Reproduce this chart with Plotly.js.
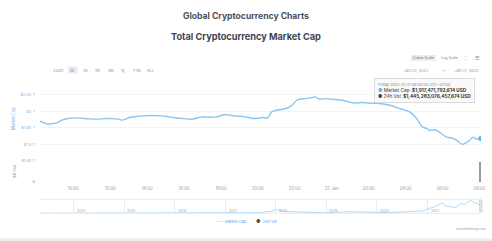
<!DOCTYPE html>
<html>
<head>
<meta charset="utf-8">
<script src="https://cdn.plot.ly/plotly-3.0.1.min.js"></script>
<style>html,body{margin:0;padding:0;background:#fff;}#chart{width:492px;height:241px;}</style>
</head>
<body>
<div id="chart"></div>
<script>
// ---- Data ----
const capTimes = [
 "2022-01-20 08:12","2022-01-20 08:38","2022-01-20 08:52","2022-01-20 09:07","2022-01-20 09:23","2022-01-20 09:43",
 "2022-01-20 10:02","2022-01-20 10:22","2022-01-20 10:50","2022-01-20 11:17","2022-01-20 11:50","2022-01-20 12:22",
 "2022-01-20 12:38","2022-01-20 13:04","2022-01-20 13:25","2022-01-20 13:46","2022-01-20 14:15","2022-01-20 14:48",
 "2022-01-20 15:05","2022-01-20 15:24","2022-01-20 15:55","2022-01-20 16:26","2022-01-20 16:58","2022-01-20 17:20",
 "2022-01-20 17:47","2022-01-20 18:13","2022-01-20 18:35","2022-01-20 19:01","2022-01-20 19:20","2022-01-20 19:44",
 "2022-01-20 20:16","2022-01-20 20:32","2022-01-20 20:45","2022-01-20 21:00","2022-01-20 21:21","2022-01-20 21:44",
 "2022-01-20 22:10","2022-01-20 22:33","2022-01-20 22:50","2022-01-20 23:05","2022-01-20 23:21","2022-01-20 23:40",
 "2022-01-21 00:00","2022-01-21 00:36","2022-01-21 01:08","2022-01-21 01:41","2022-01-21 02:10","2022-01-21 02:36",
 "2022-01-21 03:08","2022-01-21 03:41","2022-01-21 04:13","2022-01-21 04:36","2022-01-21 04:55","2022-01-21 05:08",
 "2022-01-21 05:18","2022-01-21 05:35","2022-01-21 05:50","2022-01-21 06:13","2022-01-21 06:30","2022-01-21 06:46",
 "2022-01-21 07:05","2022-01-21 07:28","2022-01-21 07:38","2022-01-21 07:50","2022-01-21 08:04"
];
const capValues = [ // trillions USD
 1.970,1.961,1.963,1.965,1.973,1.978,
 1.980,1.979,1.977,1.976,1.978,1.977,
 1.973,1.981,1.984,1.986,1.987,1.986,
 1.984,1.981,1.978,1.976,1.983,1.982,
 1.983,1.990,1.987,1.985,1.983,1.978,
 1.981,1.980,1.998,2.003,2.006,2.013,
 2.035,2.038,2.040,2.043,2.036,2.038,
 2.036,2.033,2.025,2.026,2.024,2.023,
 2.018,2.008,1.998,1.978,1.952,1.948,
 1.942,1.944,1.937,1.922,1.920,1.912,
 1.900,1.912,1.922,1.916,1.9175
];
const volTimes = ["2022-01-21 08:04"];
const volValues = [1445283076457674];

const navDates = ["2013-05-01","2013-11-30","2014-06-01","2015-01-01","2015-08-01","2016-03-01","2016-10-01",
 "2017-05-01","2017-09-01","2017-12-01","2018-01-08","2018-03-01","2018-06-01","2018-12-15","2019-06-25","2019-12-15",
 "2020-03-15","2020-08-15","2020-12-01","2021-01-10","2021-02-20","2021-04-14","2021-05-20","2021-07-20",
 "2021-09-05","2021-09-25","2021-11-09","2021-12-10","2022-01-05","2022-01-21"];
const navValues = [0.0015,0.012,0.008,0.006,0.004,0.007,0.012,
 0.06,0.15,0.45,0.82,0.4,0.33,0.11,0.36,0.19,
 0.15,0.36,0.55,1.05,1.45,2.3,1.6,1.3,
 2.3,1.9,2.95,2.3,2.1,1.9];

const priceTicks = [1.85,1.9,1.95,2.0,2.05,2.1];
const priceTickText = ["$1.85 T","$1.9 T","$1.95 T","$2 T","$2.05 T",""];
const timeTicks = ["2022-01-20 10:00","2022-01-20 12:00","2022-01-20 14:00","2022-01-20 16:00","2022-01-20 18:00",
 "2022-01-20 20:00","2022-01-20 22:00","2022-01-21 00:00","2022-01-21 02:00","2022-01-21 04:00","2022-01-21 06:00","2022-01-21 08:00"];
const timeTickText = ["10:00","12:00","14:00","16:00","18:00","20:00","22:00","21. Jan","02:00","04:00","06:00","08:00"];
const yearTicks = ["2014-01-01","2015-01-01","2016-01-01","2017-01-01","2018-01-01","2019-01-01","2020-01-01","2021-01-01"];
const yearText = ["2014","2015","2016","2017","2018","2019","2020","2021"];
const zoomButtons = ["1d","7d","1m","3m","1y","YTD","ALL"];

// ---- Layout helpers ----
const W = 492, H = 241;
const px = x => x / W, py = y => 1 - y / H;
const FONT = "Inter, 'Noto Sans', sans-serif";
const BLUE = "#8ac6f2";
const X0 = 40, X1 = 481;

const capT = capValues.map(v => v * 1e12);

const traces = [
 {type:"scatter", mode:"lines", x:capTimes, y:capT, xaxis:"x", yaxis:"y",
  line:{color:BLUE, width:1.4, shape:"spline", smoothing:0.6}, hoverinfo:"skip", showlegend:false},
 {type:"scatter", mode:"markers", x:[capTimes[capTimes.length-1]], y:[capT[capT.length-1]], xaxis:"x", yaxis:"y",
  marker:{color:"#5fb3ee", size:5}, hoverinfo:"skip", showlegend:false},
 {type:"bar", x:volTimes, y:volValues, xaxis:"x", yaxis:"y2", width:[500000],
  marker:{color:"#9a9a9a"}, hoverinfo:"skip", showlegend:false},
 {type:"scatter", mode:"lines", x:navDates, y:navValues.map(v=>v*1e12), xaxis:"x2", yaxis:"y3",
  line:{color:"#a9d6f5", width:0.9}, hoverinfo:"skip", showlegend:false}
];

const annotations = [];
function txt(x, y, text, size, color, opts) {
  annotations.push(Object.assign({xref:"paper", yref:"paper", x:px(x), y:py(y), text:text, showarrow:false,
    font:{family:FONT, size:size, color:color}, xanchor:"center", yanchor:"middle"}, opts || {}));
}
txt(246, 16, "<b>Global Cryptocurrency Charts</b>", 8.6, "#4a4f5a");
txt(246, 36, "<b>Total Cryptocurrency Market Cap</b>", 9.2, "#3f4450");
// scale buttons
txt(423.5, 58, "Linear Scale", 3.6, "#777");
txt(449, 58, "Log Scale", 3.6, "#888");
txt(466, 58, "⛶", 4.5, "#aaa");
txt(477, 58, "☰", 5, "#777");
// zoom buttons
txt(58, 70, "Zoom", 3.8, "#999");
const zx = [72.5, 85.5, 98, 111, 124, 136.5, 150];
zoomButtons.forEach((b, i) => txt(zx[i], 70, b, 3.8, "#888"));
// date range
txt(416, 70, "Jan 20, 2022", 3.9, "#999");
txt(444, 70, "→", 3.9, "#aaa");
txt(467, 70, "Jan 21, 2022", 3.9, "#999");
// axis titles
txt(13, 119, "Market Cap", 4.2, "#7ab6e6", {textangle:-90});
txt(15, 172, "24h Vol", 3.6, "#777", {textangle:-90});
// navigator year labels, placed through the navigator's date axis
yearTicks.forEach((d, i) => annotations.push({xref:"x2", yref:"paper", x:d, y:py(210.7), text:yearText[i],
  showarrow:false, xanchor:"left", yanchor:"middle", xshift:1, font:{family:FONT, size:3.6, color:"#aaa"}}));
// tooltip
annotations.push({xref:"paper", yref:"paper", x:px(374), y:py(78), xanchor:"left", yanchor:"top", showarrow:false,
  align:"left", bgcolor:"rgba(250,250,250,0.92)", bordercolor:"#c8c8c8", borderwidth:0.6, borderpad:3.5,
  font:{family:FONT, size:4.7, color:"#333"},
  text:"<span style='color:#888;font-size:3.8px'>Friday 2022-01-21 08:04:00 UTC+07:00</span><br>" +
       "<span style='color:#5fb3ee'>●</span> Market Cap: <b>$1,917,471,793,614 USD</b><br>" +
       "<span style='color:#444'>●</span> 24h Vol: <b>$1,445,283,076,457,674 USD</b>"});
// legend
txt(231, 221, "<span style='color:#8ac6f2'>——</span> Market Cap", 3.9, "#5fa6e0");
txt(266, 221, "<span style='color:#555;font-size:5px'>●</span>  24h Vol", 3.9, "#5fa6e0");
// credit
txt(471, 229, "coinmarketcap.com", 3.2, "#999");

const shapes = [
 {type:"rect", xref:"paper", yref:"paper", x0:px(411), x1:px(436), y0:py(55), y1:py(61), fillcolor:"#e9ecf1", line:{width:0}, layer:"below"},
 {type:"rect", xref:"paper", yref:"paper", x0:px(68), x1:px(77.5), y0:py(66.5), y1:py(73.5), fillcolor:"#e6ebf3", line:{width:0}, layer:"below"},
 {type:"line", xref:"paper", yref:"paper", x0:px(X0), x1:px(X1), y0:py(199.3), y1:py(199.3), line:{color:"#e3e3e3", width:0.7}},
 {type:"line", xref:"paper", yref:"paper", x0:px(X0), x1:px(X1), y0:py(213.3), y1:py(213.3), line:{color:"#cfe8fa", width:0.7}},
 {type:"rect", xref:"paper", yref:"paper", x0:px(479.5), x1:px(482), y0:py(200), y1:py(212), fillcolor:"#e2e2e2", line:{color:"#bbb", width:0.4}},
 {type:"rect", xref:"paper", yref:"paper", x0:0, x1:1, y0:0, y1:py(238.5), fillcolor:"#eeeeee", line:{width:0}}
];

const layout = {
  width:W, height:H, margin:{l:0, r:0, t:0, b:0}, paper_bgcolor:"#fff", plot_bgcolor:"rgba(0,0,0,0)",
  font:{family:FONT}, showlegend:false, bargap:0,
  xaxis:{type:"date", domain:[px(X0), px(X1)], range:["2022-01-20 08:12","2022-01-21 08:05"], anchor:"y2",
    tickvals:timeTicks, ticktext:timeTickText, tickfont:{size:4.2, color:"#999", family:FONT},
    showgrid:false, zeroline:false, showline:false, ticks:"", ticklabelstandoff:3, fixedrange:true},
  yaxis:{domain:[py(161), py(78)], range:[1.85e12, 2.1e12], anchor:"x",
    tickvals:priceTicks.map(v=>v*1e12), ticktext:priceTickText, tickfont:{size:4.0, color:"#7ab6e6", family:FONT},
    showgrid:true, gridcolor:"#eeeeee", gridwidth:0.7, zeroline:false, showline:false, ticks:"", ticklabelstandoff:4},
  yaxis2:{domain:[py(182), py(161.5)], range:[0, volValues[0]], anchor:"x",
    tickvals:[0], ticktext:["0"], tickfont:{size:4.0, color:"#888", family:FONT},
    showgrid:true, gridcolor:"#e6e6e6", gridwidth:0.7, zeroline:false, showline:false, ticks:"", ticklabelstandoff:4},
  xaxis2:{type:"date", domain:[px(X0), px(X1)], range:["2013-05-01","2022-01-22"], anchor:"y3",
    tickvals:yearTicks, showticklabels:false,
    showgrid:true, gridcolor:"#e3e3e3", gridwidth:0.7, zeroline:false, showline:false, ticks:""},
  yaxis3:{domain:[py(213.3), py(199.3)], range:[0, 3.15e12], anchor:"x2", visible:false, showgrid:false},
  annotations:annotations, shapes:shapes
};

Plotly.newPlot("chart", traces, layout, {staticPlot:true, displayModeBar:false});
</script>
</body>
</html>
